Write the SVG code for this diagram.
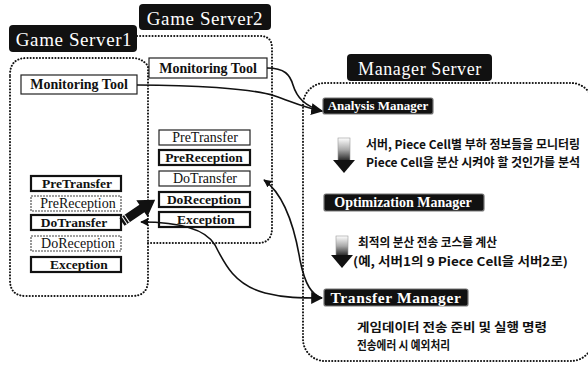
<svg xmlns="http://www.w3.org/2000/svg" width="588" height="368" viewBox="0 0 588 368">
<style>
.dot{fill:none;stroke:#111;stroke-width:2;stroke-dasharray:0.1 3;stroke-linecap:round}
.lbl{fill:#111}
.lt{font-family:"Liberation Serif",serif;fill:#fff;font-size:19px;letter-spacing:0.6px}
.mt{font-family:"Liberation Serif",serif;font-weight:bold;font-size:14px;fill:#111}
.bx{fill:#fff;stroke:#222;stroke-width:1.2}
.bb{fill:#fff;stroke:#111;stroke-width:2.2}
.bd{fill:#fff;stroke:#444;stroke-width:1.1;stroke-dasharray:2 1}
.it{font-family:"Liberation Serif",serif;font-size:14px;fill:#111;text-anchor:middle}
.ib{font-weight:bold;font-size:13.5px}
.mg{fill:#111;stroke:#777;stroke-width:1.2}
.mgt{font-family:"Liberation Serif",serif;font-weight:bold;fill:#fff}
.kr{font-family:"Noto Sans CJK KR","Liberation Sans",sans-serif;font-weight:bold;font-size:12px;fill:#111}
.con{fill:none;stroke:#111;stroke-width:1.6}
</style>
<defs>
<linearGradient id="g" x1="0" y1="0" x2="0" y2="1">
<stop offset="0" stop-color="#fff"/>
<stop offset="0.5" stop-color="#aaa"/>
<stop offset="1" stop-color="#222"/>
</linearGradient>
<marker id="ah" viewBox="0 0 10 10" refX="9" refY="5" markerWidth="8" markerHeight="8" orient="auto-start-reverse" markerUnits="userSpaceOnUse">
<path d="M0,0 L10,5 L0,10 Z" fill="#111"/>
</marker>
<marker id="ah2" viewBox="0 0 10 10" refX="9" refY="5" markerWidth="12" markerHeight="12" orient="auto-start-reverse" markerUnits="userSpaceOnUse">
<path d="M0,0 L10,5 L0,10 Z" fill="#111"/>
</marker>
</defs>
<rect width="588" height="368" fill="#fff"/>

<g id="gameServer2">
<path class="dot" d="M137,36 H260 Q272,36 272,48 V228 Q272,243 258,243 H148"/>
<rect class="lbl" x="139" y="4" width="132" height="26" rx="4"/>
<text class="lt" x="205" y="25" text-anchor="middle">Game Server2</text>
<rect class="bx" x="149" y="58" width="118" height="20"/>
<text class="mt" x="208" y="73" text-anchor="middle">Monitoring Tool</text>
<rect class="bx" x="159" y="130" width="91" height="15"/>
<text class="it" x="205" y="142">PreTransfer</text>
<rect class="bb" x="159" y="150" width="91" height="15"/>
<text class="it ib" x="204" y="162">PreReception</text>
<rect class="bx" x="159" y="171" width="91" height="15"/>
<text class="it" x="205" y="183">DoTransfer</text>
<rect class="bb" x="159" y="192" width="91" height="15"/>
<text class="it ib" x="204" y="204">DoReception</text>
<rect class="bb" x="159" y="212" width="91" height="15"/>
<text class="it ib" x="206" y="224">Exception</text>
</g>

<g id="gameServer1">
<path class="dot" d="M10,75 Q10,58 27,58 H132 Q142,58 148,66 V280 Q148,296 132,296 H26 Q10,296 10,280 Z"/>
<rect class="lbl" x="9" y="25" width="128" height="27" rx="4"/>
<text class="lt" x="74" y="46" text-anchor="middle">Game Server1</text>
<rect class="bx" x="21" y="75" width="116" height="19"/>
<text class="mt" x="79" y="89" text-anchor="middle">Monitoring Tool</text>
<rect class="bb" x="31" y="176" width="90" height="15"/>
<text class="it ib" x="77" y="188">PreTransfer</text>
<rect class="bd" x="31" y="196" width="90" height="15"/>
<text class="it" x="78" y="208">PreReception</text>
<rect class="bb" x="31" y="215" width="90" height="15"/>
<text class="it ib" x="74" y="227">DoTransfer</text>
<rect class="bd" x="31" y="236" width="90" height="15"/>
<text class="it" x="78" y="248">DoReception</text>
<rect class="bb" x="31" y="257" width="90" height="15"/>
<text class="it ib" x="79" y="269">Exception</text>
</g>

<g id="managerServer">
<rect class="dot" x="303" y="83" width="290" height="278" rx="22"/>
<rect class="lbl" x="347" y="54" width="145" height="27" rx="4"/>
<text class="lt" x="420" y="75" text-anchor="middle" style="font-size:18px">Manager Server</text>
</g>

<g id="analysisManager">
<rect class="mg" x="323" y="98" width="110" height="16" rx="2"/>
<text class="mgt" x="378" y="110" text-anchor="middle" font-size="13">Analysis Manager</text>
<rect x="338" y="138" width="12" height="23" fill="url(#g)" stroke="#999" stroke-width="0.6"/>
<path d="M333,160 H355 L344,173 Z" fill="#111"/>
<text class="kr" x="366" y="149" textLength="214" lengthAdjust="spacingAndGlyphs">서버, Piece Cell별 부하 정보들을 모니터링</text>
<text class="kr" x="366" y="167" textLength="214" lengthAdjust="spacingAndGlyphs">Piece Cell을 분산 시켜야 할 것인가를 분석</text>
</g>

<g id="optimizationManager">
<rect class="mg" x="324" y="194" width="160" height="17" rx="2"/>
<text class="mgt" x="403" y="207" text-anchor="middle" font-size="14">Optimization Manager</text>
<rect x="336" y="236" width="12" height="20" fill="url(#g)" stroke="#999" stroke-width="0.6"/>
<path d="M331,255 H353 L342,268 Z" fill="#111"/>
<text class="kr" x="358" y="247" textLength="139" lengthAdjust="spacingAndGlyphs">최적의 분산 전송 코스를 계산</text>
<text class="kr" x="353" y="266" textLength="215" lengthAdjust="spacingAndGlyphs">(예, 서버1의 9 Piece Cell을 서버2로)</text>
</g>

<g id="transferManager">
<rect class="mg" x="324" y="289" width="144" height="17" rx="2"/>
<text class="mgt" x="396" y="303" text-anchor="middle" font-size="15.5" letter-spacing="0.6">Transfer Manager</text>
<text class="kr" x="357" y="332" textLength="190" lengthAdjust="spacingAndGlyphs">게임데이터 전송 준비 및 실행 명령</text>
<text class="kr" x="357" y="350" textLength="93" lengthAdjust="spacingAndGlyphs">전송에러 시 예외처리</text>
</g>

<g id="connectors">
<path class="con" d="M137,85 C190,85 250,88 275,96 C295,103 305,108 322,111" marker-end="url(#ah2)"/>
<path class="con" d="M267,68 C285,68 290,75 293,85 C297,98 305,106 322,111"/>
<path class="con" d="M141,222 C175,222 205,228 215,245 C225,265 235,285 265,293 C285,298 300,298 322,298" marker-start="url(#ah)" marker-end="url(#ah2)"/>
<path class="con" d="M264,180 C285,195 295,230 300,260 C305,285 312,295 322,298" marker-start="url(#ah)"/>
<g transform="translate(122,222) rotate(-34)">
<polygon points="0,-4.5 24,-4.5 24,-10 40,0 24,10 24,4.5 0,4.5" fill="#111"/>
<line x1="3" y1="-4.5" x2="3" y2="4.5" stroke="#fff" stroke-width="1"/>
<line x1="6" y1="-4.5" x2="6" y2="4.5" stroke="#fff" stroke-width="1"/>
</g>
</g>
</svg>
